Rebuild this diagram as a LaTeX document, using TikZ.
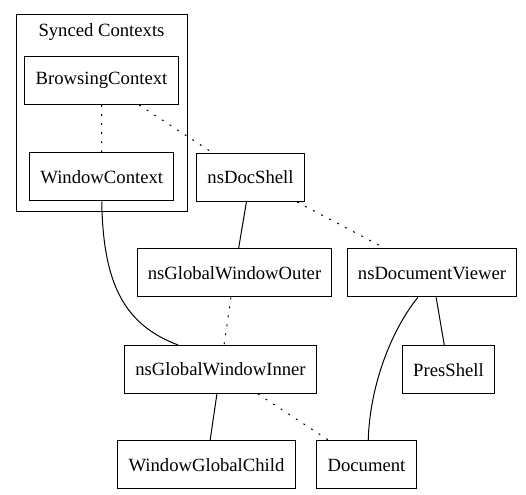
\documentclass[tikz,border=0pt]{standalone}
\usepackage{fontspec}
\setmainfont{Liberation Serif}
\usepackage{tikz}
\usetikzlibrary{calc,positioning}

\begin{document}
\begin{tikzpicture}[x=0.75pt,y=-0.75pt,
		line width=0.75pt,
		box/.style={draw,rectangle,minimum height=36pt,inner xsep=8pt,inner ysep=0pt,font=\fontsize{14}{16}\selectfont},
		weak/.style={dash pattern=on 1.4pt off 5.4pt},
		strong/.style={solid}
		]%
		\useasboundingbox (0,0) rectangle (526,495);
		%% cluster
		\draw (16,15) rectangle (187,212);
		\node[font=\fontsize{14}{16}\selectfont] (synced) at (101.5,32) {Synced Contexts};
		%% nodes, rank by rank
		\node[box] (bc) at (101.5,80.5) {BrowsingContext};
		\node[box] (wc) at (101.75,177) {WindowContext};
		\node[box] (ds) at (250.5,177.5) {nsDocShell};
		\node[box] (gwo) at (234.5,273) {nsGlobalWindowOuter};
		\node[box] (dv) at (432,273) {nsDocumentViewer};
		\node[box] (gwi) at (220.5,369.5) {nsGlobalWindowInner};
		\node[box] (ps) at (448.5,370) {PresShell};
		\node[box] (wgc) at (206.5,465) {WindowGlobalChild};
		\node[box] (doc) at (366.5,465) {Document};
		%% dotted links
		\foreach \a/\b in {bc/wc,bc/ds,ds/dv,gwo/gwi,gwi/doc}{%
			\draw[weak] (\a) -- (\b);
		}
		%% solid links
		\foreach \a/\b in {ds/gwo,dv/ps,gwi/wgc}{%
			\draw[strong] (\a) -- (\b);
		}
		\draw (wc.south) .. controls (103,285) and (125,325) .. (gwi.150.5);
		\draw (dv.240) .. controls (395,325) and (370,380) .. (doc.86);
	\end{tikzpicture}
\end{document}
